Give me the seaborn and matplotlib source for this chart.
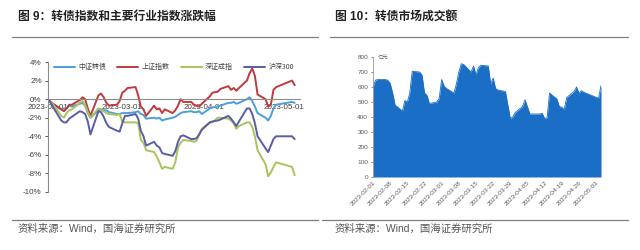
import numpy as np
import pandas as pd
import matplotlib
matplotlib.use("Agg")
import matplotlib.pyplot as plt
import matplotlib.dates as mdates
from matplotlib.ticker import FuncFormatter
from matplotlib.lines import Line2D
import seaborn as sns

# ---------------- data ----------------
dates = [
    "2023-02-01", "2023-02-02", "2023-02-03", "2023-02-06", "2023-02-07", "2023-02-08",
    "2023-02-09", "2023-02-10", "2023-02-13", "2023-02-14", "2023-02-15", "2023-02-16",
    "2023-02-17", "2023-02-20", "2023-02-21", "2023-02-22", "2023-02-23", "2023-02-24",
    "2023-02-27", "2023-02-28", "2023-03-01", "2023-03-02", "2023-03-03", "2023-03-06",
    "2023-03-07", "2023-03-08", "2023-03-09", "2023-03-10", "2023-03-13", "2023-03-14",
    "2023-03-15", "2023-03-16", "2023-03-17", "2023-03-20", "2023-03-21", "2023-03-22",
    "2023-03-23", "2023-03-24", "2023-03-27", "2023-03-28", "2023-03-29", "2023-03-30",
    "2023-03-31", "2023-04-03", "2023-04-04", "2023-04-06", "2023-04-07", "2023-04-10",
    "2023-04-11", "2023-04-12", "2023-04-13", "2023-04-14", "2023-04-17", "2023-04-18",
    "2023-04-19", "2023-04-20", "2023-04-21", "2023-04-24", "2023-04-25", "2023-04-26",
    "2023-04-27", "2023-04-28", "2023-05-04", "2023-05-05",
]

cb_index = [0.0, -0.3, -0.6, -1.1, -1.0, -1.0, -0.7, -0.8, -0.5, -0.4, -0.7, -1.5,
            -2.0, -1.2, -1.1, -1.2, -1.2, -1.4, -1.6, -1.6, -1.5, -1.5, -1.5, -1.4,
            -1.3, -1.6, -1.7, -2.1, -2.0, -2.1, -2.0, -2.3, -2.2, -2.0, -1.9, -1.7,
            -1.5, -1.4, -1.3, -1.4, -1.4, -1.3, -1.6, -1.0, -0.9, -0.8, -0.7, -0.4,
            -0.4, -0.3, -0.5, -0.4, 0.0, 0.2, -0.2, -0.8, -1.5, -2.0, -2.3, -1.8,
            -1.0, -0.6, -0.3, -0.4]
sh_index = [0.0, -0.3, -0.5, -1.1, -1.3, -1.0, -0.6, -0.6, -0.1, 0.2, 0.0, -1.0,
            -1.8, 0.4, 0.6, 0.2, -0.4, -0.7, -0.6, -0.2, 0.7, 0.9, 1.2, 1.3,
            0.4, -0.8, -1.1, -1.8, -0.7, -1.1, -1.0, -1.5, -1.1, -1.5, -1.2, -0.7,
            0.0, -0.3, -0.3, -0.6, -0.7, -0.8, -0.5, 0.3, 0.7, 0.8, 1.1, 1.4,
            1.0, 1.2, 0.9, 1.2, 2.0, 2.8, 3.3, 2.5, 0.5, 0.0, -0.8, -0.6,
            1.0, 1.3, 2.0, 1.5]
sz_index = [0.0, -0.3, -0.6, -1.8, -2.0, -1.5, -1.2, -1.1, -0.4, -0.2, -0.6, -1.4,
            -2.0, -1.0, -1.1, -1.3, -1.5, -1.6, -1.7, -1.6, -2.4, -2.5, -2.5, -2.5,
            -2.6, -4.4, -4.7, -5.5, -5.7, -6.2, -6.8, -7.5, -7.3, -7.5, -6.8, -5.2,
            -4.7, -4.4, -4.5, -4.6, -4.5, -3.8, -3.2, -2.5, -2.5, -2.0, -2.0, -2.1,
            -2.3, -2.6, -3.2, -2.9, -2.5, -2.5, -3.0, -4.0, -5.5, -7.0, -8.3, -7.9,
            -7.3, -6.8, -7.3, -8.2]
hs300 = [0.0, -0.4, -0.9, -2.3, -2.5, -2.5, -2.1, -1.9, -1.3, -1.4, -1.6, -2.4,
         -3.8, -1.3, -1.4, -1.9, -2.6, -3.0, -3.4, -3.5, -2.6, -1.8, -1.8, -1.6,
         -2.1, -3.4, -4.0, -5.0, -4.6, -5.0, -5.2, -5.8, -5.9, -6.1, -5.6, -4.6,
         -4.0, -3.9, -4.3, -4.3, -4.2, -3.8, -3.3, -2.5, -2.4, -2.3, -2.2, -1.8,
         -2.1, -2.5, -2.9, -2.4, -1.0, -1.0, -1.6, -2.6, -4.0, -5.3, -5.7, -5.0,
         -4.3, -4.0, -4.0, -4.3]

series_names = ["中证转债", "上证指数", "深证成指", "沪深300"]
series_colors = ["#4b9fd9", "#c0393d", "#a8c35a", "#5a5ca4"]
left_xticks = ["2023-02-01", "2023-03-01", "2023-04-01", "2023-05-01"]
left_yticks = [-10, -8, -6, -4, -2, 0, 2, 4]

turnover = [600, 645, 650, 650, 645, 625, 560, 480, 440, 510, 500, 560,
            705, 700, 680, 560, 545, 490, 500, 525, 650, 605, 590, 560,
            620, 700, 755, 750, 700, 740, 680, 730, 745, 740, 620, 660,
            590, 580, 570, 480, 390, 400, 430, 470, 515, 420, 420, 420,
            425, 390, 395, 560, 520, 470, 465, 450, 530, 570, 600, 560,
            575, 565, 525, 610]
right_xticks = ["2023-02-01", "2023-02-08", "2023-02-15", "2023-02-22", "2023-03-01",
                "2023-03-08", "2023-03-15", "2023-03-22", "2023-03-29", "2023-04-05",
                "2023-04-12", "2023-04-19", "2023-04-26", "2023-05-03"]
right_yticks = [0, 100, 200, 300, 400, 500, 600, 700, 800]

title_left = "图 9：转债指数和主要行业指数涨跌幅"
title_right = "图 10：转债市场成交额"
source_text = "资料来源：Wind，国海证券研究所"
unit_text = "亿元"

# ---------------- style ----------------
sns.set_theme(style="white")
plt.rcParams["font.family"] = ["Liberation Sans", "Noto Sans CJK SC", "DejaVu Sans"]
CJK = ["Noto Sans CJK SC", "DejaVu Sans"]

fig = plt.figure(figsize=(6.4, 2.5), dpi=100)
fig.patch.set_facecolor("white")

# titles, rules, sources
fig.text(18 / 640, 1 - 17 / 250, title_left, fontsize=8.5, fontweight="bold",
         family=["Liberation Sans", "Noto Sans CJK SC"], va="center", ha="left", color="#222222")
fig.text(335 / 640, 1 - 17 / 250, title_right, fontsize=8.5, fontweight="bold",
         family=["Liberation Sans", "Noto Sans CJK SC"], va="center", ha="left", color="#222222")
for x0, x1 in [(12, 318), (330, 628)]:
    fig.add_artist(Line2D([x0 / 640, x1 / 640], [1 - 37 / 250] * 2, color="#7f7f7f", lw=0.9))
for x0, x1 in [(12, 318), (322, 628)]:
    fig.add_artist(Line2D([x0 / 640, x1 / 640], [1 - 220 / 250] * 2, color="#7f7f7f", lw=0.9))
fig.text(18 / 640, 1 - 229 / 250, source_text, fontsize=7.5,
         family=["Liberation Sans", "Noto Sans CJK SC"], va="center", ha="left", color="#555555")
fig.text(335 / 640, 1 - 229 / 250, source_text, fontsize=7.5,
         family=["Liberation Sans", "Noto Sans CJK SC"], va="center", ha="left", color="#555555")

# ---------------- left chart ----------------
ax1 = fig.add_axes([48 / 640, 1 - 192 / 250, 252 / 640, 130 / 250])
d = pd.to_datetime(dates)
long_df = pd.concat([
    pd.DataFrame({"date": d, "value": vals, "series": name})
    for name, vals in zip(series_names, [cb_index, sh_index, sz_index, hs300])
])
palette = dict(zip(series_names, series_colors))
sns.lineplot(data=long_df, x="date", y="value", hue="series", hue_order=series_names,
             palette=palette, lw=1.4, ax=ax1, legend=False)
ax1.set_ylim(-10, 4)
ax1.set_xlim(pd.Timestamp("2023-02-01"), pd.Timestamp("2023-05-07"))
ax1.set_yticks(left_yticks)
ax1.yaxis.set_major_formatter(FuncFormatter(lambda v, p: f"{int(v)}%"))
ax1.set_xticks(pd.to_datetime(left_xticks))
ax1.xaxis.set_major_formatter(mdates.DateFormatter("%Y-%m-%d"))
ax1.set_xlabel("")
ax1.set_ylabel("")
for s in ["top", "right"]:
    ax1.spines[s].set_visible(False)
ax1.spines["bottom"].set_position(("data", 0))
ax1.spines["bottom"].set_color("#8c8c8c")
ax1.spines["bottom"].set_linewidth(0.8)
ax1.spines["left"].set_color("#8c8c8c")
ax1.spines["left"].set_linewidth(0.8)
ax1.tick_params(axis="y", labelsize=5.8, colors="#404040", length=2.5, width=0.6,
                direction="out", pad=2, left=True)
ax1.tick_params(axis="x", labelsize=5.8, colors="#404040", length=0, pad=3.5)
handles = [Line2D([], [], color=c, lw=1.4) for c in series_colors]
leg = ax1.legend(handles, series_names, loc="upper center", bbox_to_anchor=(0.5, 1.04),
                 ncol=4, frameon=False, handlelength=3.0, columnspacing=1.6,
                 handletextpad=0.5, prop={"family": CJK, "size": 5})
for t in leg.get_texts():
    t.set_color("#404040")

# ---------------- right chart ----------------
ax2 = fig.add_axes([373 / 640, 1 - 177 / 250, 228 / 640, 120 / 250])
tdf = pd.DataFrame({"date": d, "turnover": turnover})
ax2.fill_between(tdf["date"], tdf["turnover"], 0, color="#1a6ec6", lw=0)
sns.lineplot(data=tdf, x="date", y="turnover", color="#1a6ec6", lw=0.6, ax=ax2)
ax2.set_ylim(0, 800)
ax2.set_xlim(pd.Timestamp("2023-02-01"), pd.Timestamp("2023-05-05"))
ax2.set_yticks(right_yticks)
ax2.set_xticks(pd.to_datetime(right_xticks))
ax2.xaxis.set_major_formatter(mdates.DateFormatter("%Y-%m-%d"))
ax2.set_xlabel("")
ax2.set_ylabel("")
for s in ["top", "right", "bottom"]:
    ax2.spines[s].set_visible(False)
ax2.spines["left"].set_color("#9a9a9a")
ax2.spines["left"].set_linewidth(0.6)
ax2.tick_params(axis="y", labelsize=4.6, colors="#595959", length=1.5, width=0.5,
                direction="out", pad=2, left=True)
ax2.tick_params(axis="x", labelsize=4.6, colors="#595959", length=0, pad=2)
for lab in ax2.get_xticklabels():
    lab.set_rotation(45)
    lab.set_ha("right")
    lab.set_rotation_mode("anchor")
ax2.text(0.02, 1.0, unit_text, transform=ax2.transAxes, fontsize=3.8,
         family=CJK, color="#595959", va="center", ha="left")

fig.savefig("out.png", dpi=100, facecolor="white")
